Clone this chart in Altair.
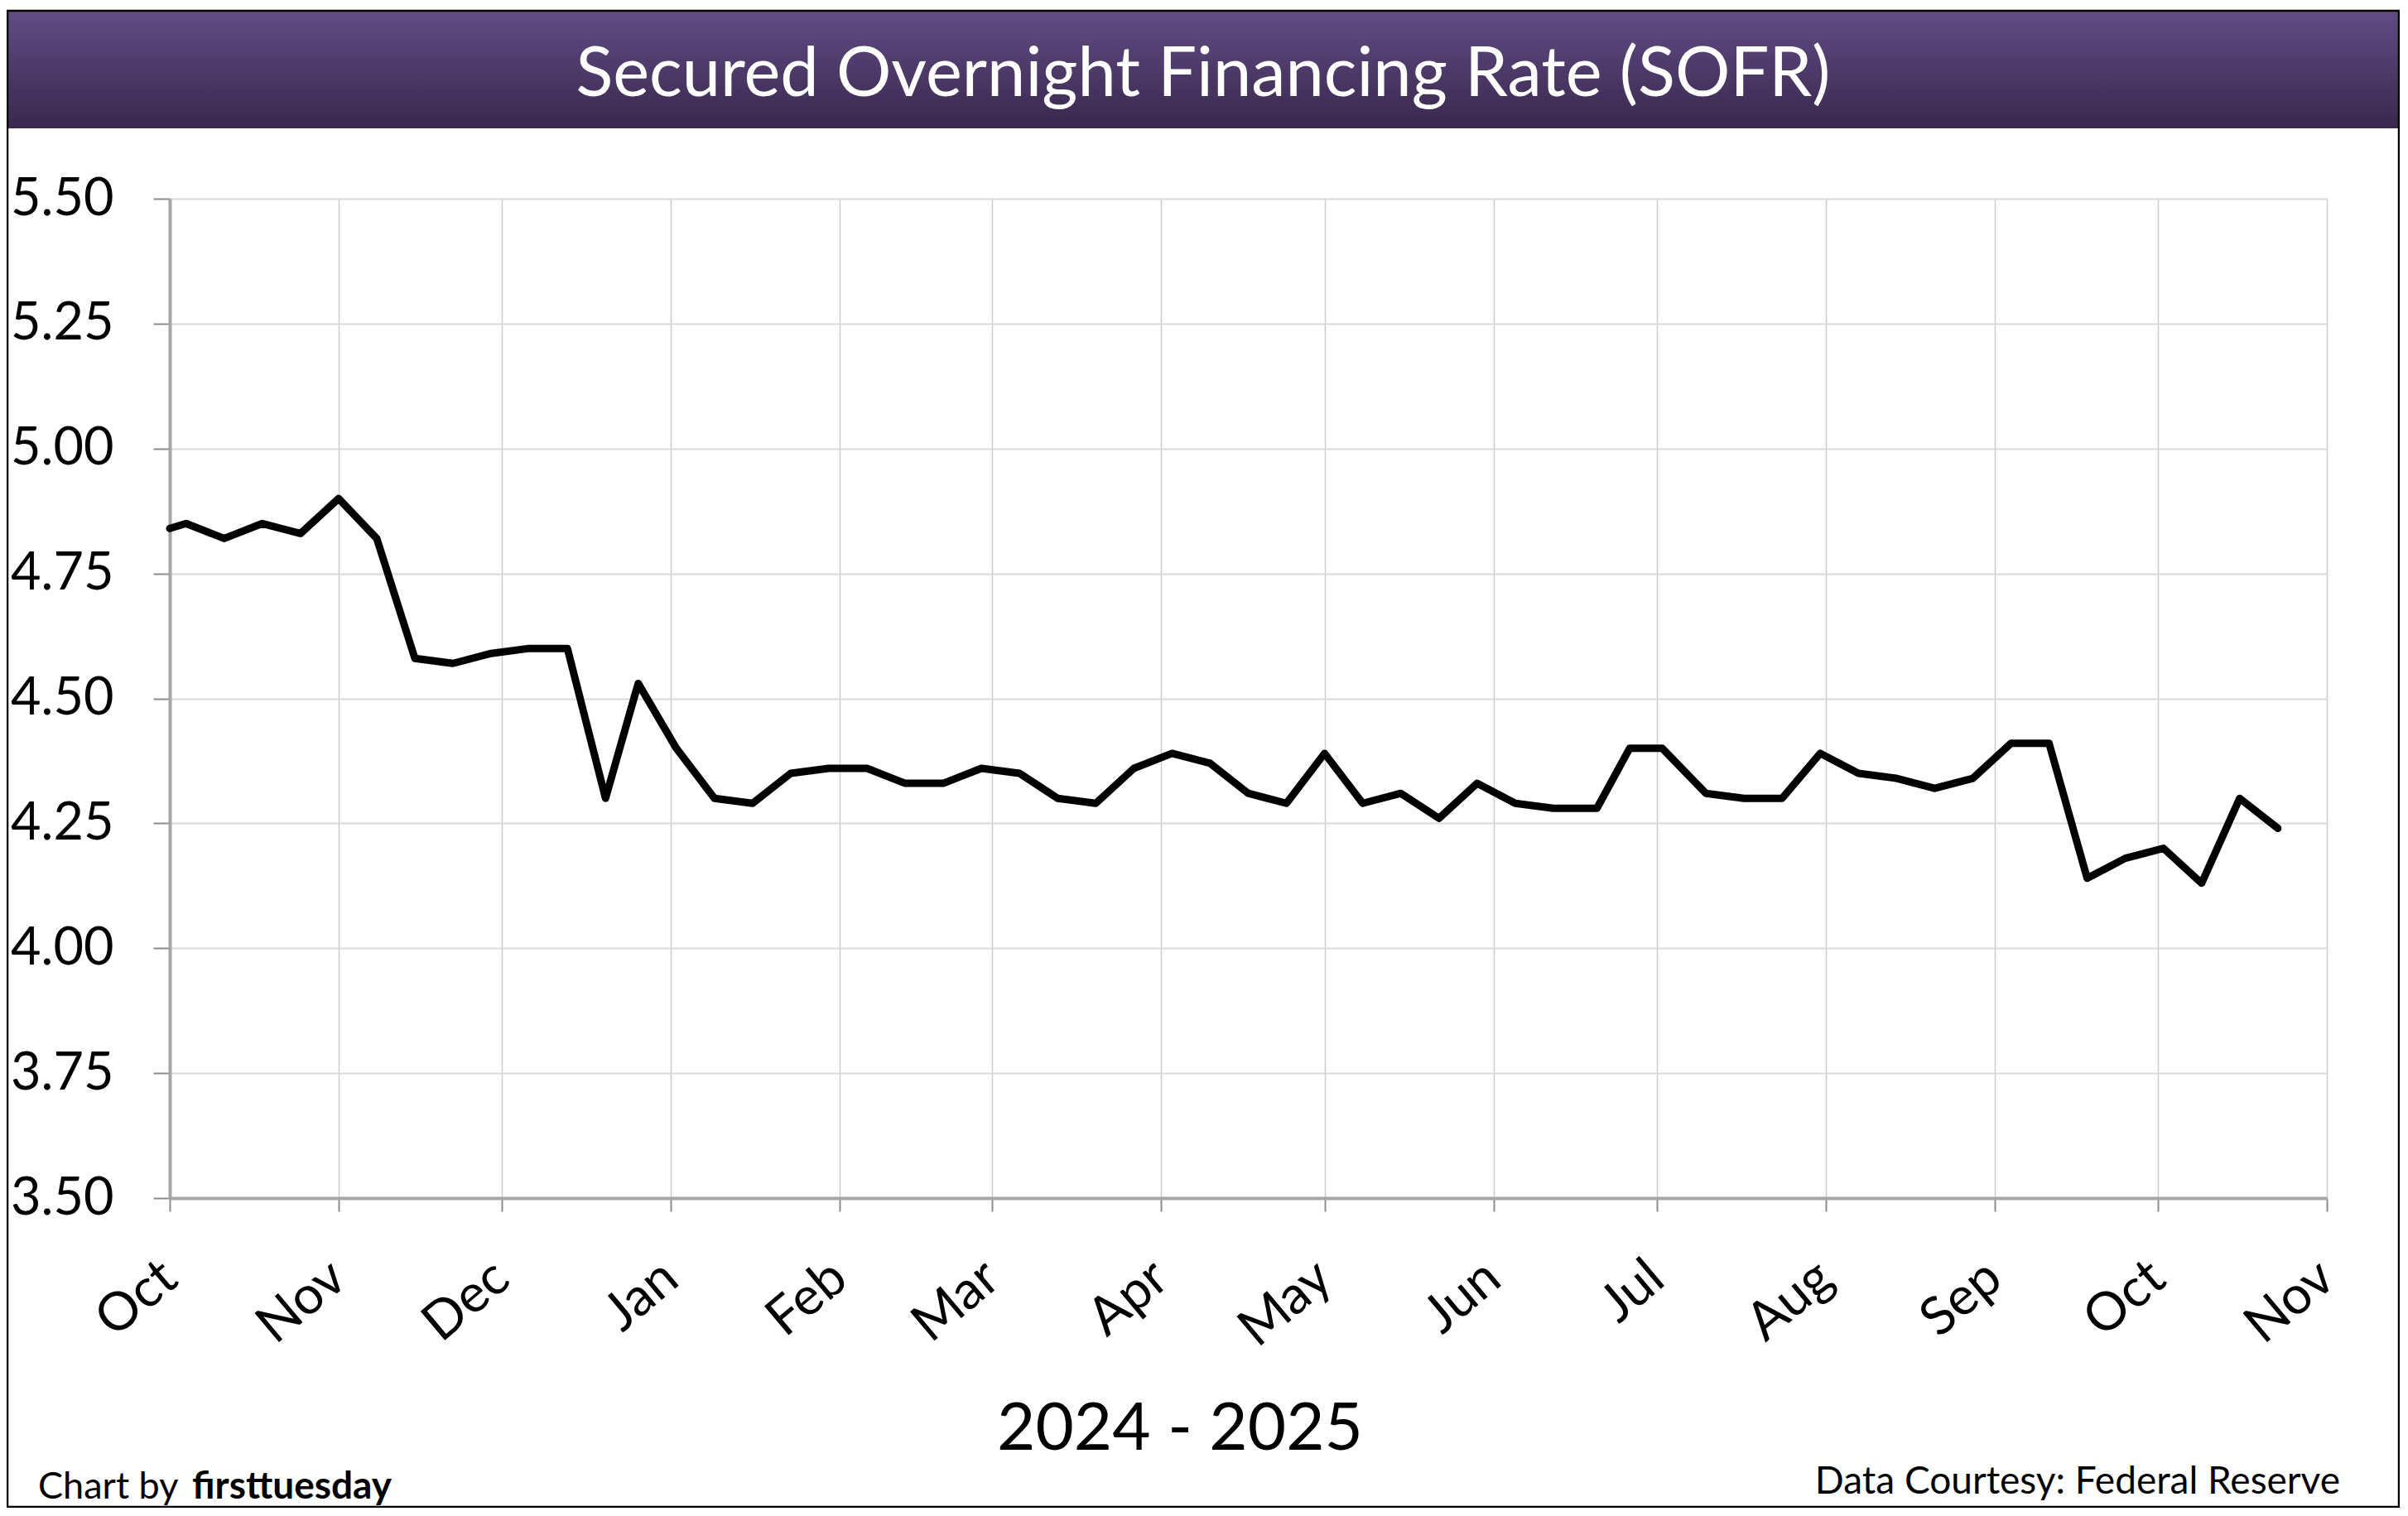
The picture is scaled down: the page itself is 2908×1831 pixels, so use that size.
import altair as alt
import pandas as pd

# ---- data ----
dates = [
    "2024-10-01", "2024-10-04", "2024-10-11", "2024-10-18", "2024-10-25",
    "2024-11-01", "2024-11-08", "2024-11-15", "2024-11-22", "2024-11-29",
    "2024-12-06", "2024-12-13", "2024-12-20", "2024-12-26", "2025-01-02",
    "2025-01-09", "2025-01-16", "2025-01-23", "2025-01-30", "2025-02-06",
    "2025-02-13", "2025-02-20", "2025-02-27", "2025-03-06", "2025-03-13",
    "2025-03-20", "2025-03-27", "2025-04-03", "2025-04-10", "2025-04-17",
    "2025-04-24", "2025-05-01", "2025-05-08", "2025-05-15", "2025-05-22",
    "2025-05-29", "2025-06-05", "2025-06-12", "2025-06-20", "2025-06-26",
    "2025-07-02", "2025-07-10", "2025-07-17", "2025-07-24", "2025-07-31",
    "2025-08-07", "2025-08-14", "2025-08-21", "2025-08-28", "2025-09-04",
    "2025-09-11", "2025-09-18", "2025-09-25", "2025-10-02", "2025-10-09",
    "2025-10-16", "2025-10-23",
]
rates = [
    4.84, 4.85, 4.82, 4.85, 4.83,
    4.90, 4.82, 4.58, 4.57, 4.59,
    4.60, 4.60, 4.30, 4.53, 4.40,
    4.30, 4.29, 4.35, 4.36, 4.36,
    4.33, 4.33, 4.36, 4.35, 4.30,
    4.29, 4.36, 4.39, 4.37, 4.31,
    4.29, 4.39, 4.29, 4.31, 4.26,
    4.33, 4.29, 4.28, 4.28, 4.40,
    4.40, 4.31, 4.30, 4.30, 4.39,
    4.35, 4.34, 4.32, 4.34, 4.41,
    4.41, 4.14, 4.18, 4.20, 4.13,
    4.30, 4.24,
]
y_ticks = [3.50, 3.75, 4.00, 4.25, 4.50, 4.75, 5.00, 5.25, 5.50]
month_ticks = [(2024, 10), (2024, 11), (2024, 12), (2025, 1), (2025, 2),
               (2025, 3), (2025, 4), (2025, 5), (2025, 6), (2025, 7),
               (2025, 8), (2025, 9), (2025, 10), (2025, 11)]
title_text = "Secured Overnight Financing Rate (SOFR)"
x_title_text = "2024 - 2025"
credit_plain = "Chart by"
credit_bold = "firsttuesday"
source_text = "Data Courtesy: Federal Reserve"

df = pd.DataFrame({"date": pd.to_datetime(dates), "rate": rates})
one = pd.DataFrame({"k": [0]})

# ---- layout ----
TOTAL_W, TOTAL_H = 2890, 1813
PL, PT = 197, 232
W, H = 2605, 1207
PR = TOTAL_W - PL - W
PB = TOTAL_H - PT - H
FONT = "Lato"

month_dt = [alt.DateTime(year=y, month=m, date=1) for y, m in month_ticks]

line = alt.Chart(df).mark_line(
    color="black", strokeWidth=9, strokeJoin="round", strokeCap="round"
).encode(
    x=alt.X(
        "date:T",
        scale=alt.Scale(domain=[month_dt[0], month_dt[-1]]),
        axis=alt.Axis(
            values=month_dt, format="%b", title=None,
            labelAngle=-40, labelAlign="right", labelBaseline="middle",
            labelFont=FONT, labelFontSize=64, labelColor="black",
            labelPadding=72, labelFlush=False, labelOverlap=False,
            tickSize=16, tickColor="#8c8c8c", tickWidth=2,
            domainColor="#a6a6a6", domainWidth=4,
            gridColor="#cccccc", gridWidth=1.5,
        ),
    ),
    y=alt.Y(
        "rate:Q",
        scale=alt.Scale(domain=[3.5, 5.5], nice=False, zero=False),
        axis=alt.Axis(
            values=y_ticks, format=".2f", title=None,
            labelFont=FONT, labelFontSize=63, labelColor="black",
            labelPadding=48, labelOverlap=False,
            tickSize=20, tickColor="#8c8c8c", tickWidth=2,
            domainColor="#a6a6a6", domainWidth=4,
            gridColor="#d9d9d9", gridWidth=2,
        ),
    ),
)

band = alt.Chart(one).mark_rect(
    color=alt.Gradient(
        gradient="linear",
        stops=[alt.GradientStop(color="#614c84", offset=0),
               alt.GradientStop(color="#39284d", offset=1)],
        x1=0, x2=0, y1=0, y2=1,
    )
).encode(
    x=alt.value(-PL), x2=alt.value(TOTAL_W - PL),
    y=alt.value(5 - PT), y2=alt.value(147 - PT),
)

frame = alt.Chart(one).mark_rect(
    fillOpacity=0, stroke="black", strokeWidth=2.5
).encode(
    x=alt.value(-PL + 1), x2=alt.value(TOTAL_W - PL - 1),
    y=alt.value(5 - PT), y2=alt.value(TOTAL_H - PT - 1),
)

title = alt.Chart(one).mark_text(
    text=title_text, font=FONT, fontSize=83, color="white",
    align="center", baseline="alphabetic"
).encode(x=alt.value(1248), y=alt.value(108 - PT))

x_title = alt.Chart(one).mark_text(
    text=x_title_text, font=FONT, fontSize=80, color="black",
    align="center", baseline="alphabetic"
).encode(x=alt.value(1220), y=alt.value(1743 - PT))

credit1 = alt.Chart(one).mark_text(
    text=credit_plain, font=FONT, fontSize=45, color="black",
    align="left", baseline="alphabetic"
).encode(x=alt.value(38 - PL), y=alt.value(1802 - PT))

credit2 = alt.Chart(one).mark_text(
    text=credit_bold, font=FONT, fontSize=46, fontWeight="bold", color="black",
    align="left", baseline="alphabetic"
).encode(x=alt.value(224 - PL), y=alt.value(1802 - PT))

source = alt.Chart(one).mark_text(
    text=source_text, font=FONT, fontSize=46, color="black",
    align="right", baseline="alphabetic"
).encode(x=alt.value(2818 - PL), y=alt.value(1796 - PT))

chart = alt.layer(
    band, line, title, x_title, credit1, credit2, source, frame
).properties(
    width=W, height=H,
    padding={"left": PL, "top": PT, "right": PR, "bottom": PB},
    autosize=alt.AutoSizeParams(type="none"),
    background="white",
).configure_view(
    stroke="#bfbfbf", strokeWidth=3
).configure(font=FONT)

chart.save("out.html", embed_options={"renderer": "svg", "actions": False})
